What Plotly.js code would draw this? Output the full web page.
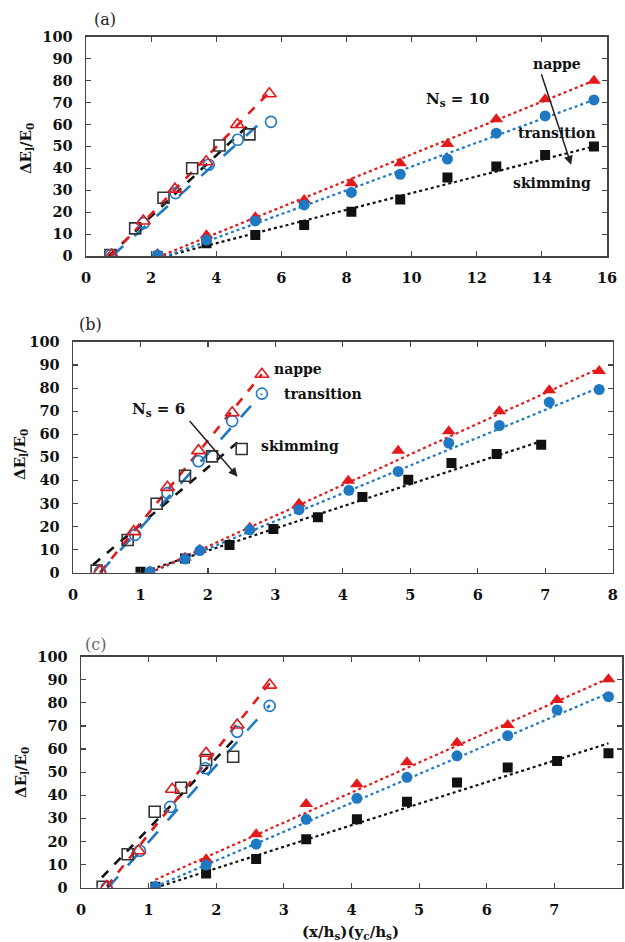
<!DOCTYPE html>
<html>
<head>
<meta charset="utf-8">
<script src="https://cdn.plot.ly/plotly-3.0.1.min.js"></script>
<style>html,body{margin:0;padding:0;background:#fff;}#chart{width:625px;height:942px;}</style>
</head>
<body>
<div id="chart"></div>
<script>
// ---------- Panel (a): N_s = 10 ----------
const aOpenNappeX = [0.79, 1.76, 2.73, 3.69, 4.65, 5.63];
const aOpenNappeY = [0.5, 16, 30.5, 43, 60, 74];
const aOpenTransX = [0.77, 1.77, 2.75, 3.77, 4.66, 5.68];
const aOpenTransY = [0.5, 15, 28.7, 41.6, 53, 61.2];
const aOpenSkimX = [0.75, 1.51, 2.38, 3.26, 4.1, 5.02];
const aOpenSkimY = [0.5, 12.6, 26.6, 40, 50.4, 55.5];
const aFillX = [2.2, 3.7, 5.2, 6.7, 8.15, 9.65, 11.1, 12.6, 14.1, 15.6];
const aFillNappeY = [0.9, 9.5, 17.7, 25.5, 33.2, 42.3, 51.1, 62.4, 71.5, 79.9];
const aFillTransY = [0.5, 7.3, 16, 23.3, 29, 37.3, 44.2, 56, 63.9, 71.2];
const aFillSkimY = [0, 5.8, 9.6, 14.2, 20.2, 25.8, 35.8, 40.8, 46.1, 49.9];
// fitted lines (end points)
const aDotNappeX = [2.2, 15.6], aDotNappeY = [-0.5, 80];
const aDotTransX = [2.2, 15.6], aDotTransY = [-1.5, 71.2];
const aDotSkimX = [2.2, 15.6], aDotSkimY = [-1, 50];
const aDashNappeX = [0.75, 5.65], aDashNappeY = [0, 75];
const aDashTransX = [0.8, 5.6], aDashTransY = [0, 64];
const aDashSkimX = [0.7, 4.98], aDashSkimY = [0, 59.5];

// ---------- Panel (b): N_s = 6 ----------
const bOpenNappeX = [0.4, 0.9, 1.4, 1.86, 2.36, 2.8];
const bOpenNappeY = [0.7, 17.8, 37, 52.9, 69.3, 86];
const bOpenTransX = [0.4, 0.92, 1.4, 1.86, 2.36, 2.8];
const bOpenTransY = [0.5, 16.4, 34.5, 48.3, 65.7, 77.6];
const bOpenSkimX = [0.35, 0.81, 1.24, 1.66, 2.06, 2.5];
const bOpenSkimY = [0.9, 14.2, 29.9, 42, 50.4, 53.6];
const bFillNappeX = [1.14, 1.66, 1.88, 2.62, 3.35, 4.08, 4.82, 5.57, 6.32, 7.06, 7.8];
const bFillNappeY = [0.5, 6.5, 10, 19.5, 29.9, 39.9, 52.9, 61.3, 70, 79.1, 87.4];
const bFillTransX = [1.14, 1.66, 1.88, 2.62, 3.35, 4.09, 4.82, 5.57, 6.32, 7.06, 7.8];
const bFillTransY = [0.4, 6, 9.6, 18.6, 27.3, 35.7, 43.9, 56.2, 63.8, 73.9, 79.4];
const bFillSkimX = [1.0, 1.66, 2.32, 2.97, 3.63, 4.29, 4.97, 5.61, 6.28, 6.94];
const bFillSkimY = [0.4, 6.2, 12, 18.9, 24, 32.8, 40.3, 47.5, 51.5, 55.5];
const bDotNappeX = [1.14, 7.8], bDotNappeY = [0, 88.5];
const bDotTransX = [1.14, 7.8], bDotTransY = [0, 80.2];
const bDotSkimX = [1.0, 6.94], bDotSkimY = [0, 57];
const bDashNappeX = [0.4, 2.8], bDashNappeY = [0, 86];
const bDashTransX = [0.4, 2.8], bDashTransY = [0, 77.5];
const bDashSkimX = [0.3, 2.5], bDashSkimY = [3.5, 58];

// ---------- Panel (c) ----------
const cOpenNappeX = [0.38, 0.85, 1.35, 1.85, 2.31, 2.79];
const cOpenNappeY = [0.5, 16, 42.6, 58.2, 70.4, 87.7];
const cOpenTransX = [0.38, 0.87, 1.32, 1.84, 2.31, 2.79];
const cOpenTransY = [0, 16, 35, 51.7, 67.5, 78.7];
const cOpenSkimX = [0.32, 0.69, 1.09, 1.48, 1.85, 2.25];
const cOpenSkimY = [0.4, 14.5, 32.9, 43.3, 55.3, 56.7];
const cFillX = [1.1, 1.85, 2.59, 3.33, 4.08, 4.82, 5.56, 6.31, 7.04, 7.8];
const cFillNappeY = [0.5, 12.3, 23.2, 36.2, 44.8, 54.3, 62.8, 70.4, 81.3, 90.2];
const cFillTransY = [0.4, 9.8, 18.9, 29.6, 38.7, 47.8, 57.1, 65.8, 76.9, 82.7];
const cFillSkimY = [0.4, 6.2, 12.4, 21, 29.6, 37.2, 45.5, 52, 54.8, 58.2];
const cDotNappeX = [1.1, 7.8], cDotNappeY = [3.5, 90.6];
const cDotTransX = [1.1, 7.8], cDotTransY = [0.5, 84.2];
const cDotSkimX = [1.1, 7.8], cDotSkimY = [0, 62.5];
const cDashNappeX = [0.38, 2.79], cDashNappeY = [0.5, 88.5];
const cDashTransX = [0.4, 2.79], cDashTransY = [0, 79];
const cDashSkimX = [0.31, 2.26], cDashSkimY = [4.5, 64];

// ---------- styling ----------
const RED = '#e3191c', BLUE = '#1f78c2', BLACK = '#111111';
const FONT = 'DejaVu Serif, serif';

function line(x, y, color, dash, w, ax) {
  return {x: x, y: y, mode: 'lines', type: 'scatter', xaxis: 'x' + ax, yaxis: 'y' + ax,
    line: {color: color, dash: dash, width: w}, hoverinfo: 'skip'};
}
function pts(x, y, color, symbol, size, ax) {
  const open = symbol.indexOf('open') >= 0;
  return {x: x, y: y, mode: 'markers', type: 'scatter', xaxis: 'x' + ax, yaxis: 'y' + ax,
    marker: {symbol: symbol, size: size, color: color, line: {color: color, width: open ? 1.6 : 0}}};
}
function panelTraces(ax, d) {
  return [
    line(d.dotSX, d.dotSY, BLACK, 'dot', 2.2, ax),
    line(d.dotTX, d.dotTY, BLUE, 'dot', 2.2, ax),
    line(d.dotNX, d.dotNY, RED, 'dot', 2.2, ax),
    line(d.dashSX, d.dashSY, BLACK, 'dash', 2.6, ax),
    line(d.dashTX, d.dashTY, BLUE, 'longdash', 2.6, ax),
    line(d.dashNX, d.dashNY, RED, 'dash', 2.6, ax),
    pts(d.oSX, d.oSY, '#333', 'square-open', 11, ax),
    pts(d.oTX, d.oTY, BLUE, 'circle-open', 11, ax),
    pts(d.oNX, d.oNY, RED, 'triangle-up-open', 12, ax),
    pts(d.fSX, d.fSY, BLACK, 'square', 10, ax),
    pts(d.fNX, d.fNY, RED, 'triangle-up', 12, ax),
    pts(d.fTX, d.fTY, BLUE, 'circle', 11, ax)
  ];
}

const traces = [].concat(
  panelTraces('', {dotSX: aDotSkimX, dotSY: aDotSkimY, dotTX: aDotTransX, dotTY: aDotTransY, dotNX: aDotNappeX, dotNY: aDotNappeY,
    dashSX: aDashSkimX, dashSY: aDashSkimY, dashTX: aDashTransX, dashTY: aDashTransY, dashNX: aDashNappeX, dashNY: aDashNappeY,
    oSX: aOpenSkimX, oSY: aOpenSkimY, oTX: aOpenTransX, oTY: aOpenTransY, oNX: aOpenNappeX, oNY: aOpenNappeY,
    fSX: aFillX, fSY: aFillSkimY, fTX: aFillX, fTY: aFillTransY, fNX: aFillX, fNY: aFillNappeY}),
  panelTraces('2', {dotSX: bDotSkimX, dotSY: bDotSkimY, dotTX: bDotTransX, dotTY: bDotTransY, dotNX: bDotNappeX, dotNY: bDotNappeY,
    dashSX: bDashSkimX, dashSY: bDashSkimY, dashTX: bDashTransX, dashTY: bDashTransY, dashNX: bDashNappeX, dashNY: bDashNappeY,
    oSX: bOpenSkimX, oSY: bOpenSkimY, oTX: bOpenTransX, oTY: bOpenTransY, oNX: bOpenNappeX, oNY: bOpenNappeY,
    fSX: bFillSkimX, fSY: bFillSkimY, fTX: bFillTransX, fTY: bFillTransY, fNX: bFillNappeX, fNY: bFillNappeY}),
  panelTraces('3', {dotSX: cDotSkimX, dotSY: cDotSkimY, dotTX: cDotTransX, dotTY: cDotTransY, dotNX: cDotNappeX, dotNY: cDotNappeY,
    dashSX: cDashSkimX, dashSY: cDashSkimY, dashTX: cDashTransX, dashTY: cDashTransY, dashNX: cDashNappeX, dashNY: cDashNappeY,
    oSX: cOpenSkimX, oSY: cOpenSkimY, oTX: cOpenTransX, oTY: cOpenTransY, oNX: cOpenNappeX, oNY: cOpenNappeY,
    fSX: cFillX, fSY: cFillSkimY, fTX: cFillX, fTY: cFillTransY, fNX: cFillX, fNY: cFillNappeY})
);

const tickFont = {family: FONT, size: 14.5, color: '#111', weight: 'bold'};
function xax(domain, range, dtick, anchor) {
  return {domain: domain, range: range, dtick: dtick, tick0: 0, anchor: anchor, showgrid: false, zeroline: false,
    showline: true, mirror: 'ticks', linecolor: '#444', linewidth: 1.5, ticks: 'inside', ticklen: 5, tickwidth: 1.2,
    tickcolor: '#444', tickfont: tickFont, ticklabelstandoff: 8};
}
function yax(domain, anchor) {
  return {domain: domain, range: [0, 100], dtick: 10, tick0: 0, anchor: anchor, showgrid: false, zeroline: false,
    showline: true, mirror: 'ticks', linecolor: '#444', linewidth: 1.5, ticks: 'inside', ticklen: 5, tickwidth: 1.2,
    tickcolor: '#444', tickfont: tickFont, ticklabelstandoff: 9};
}

const bold = {family: FONT, size: 14, color: '#111', weight: 'bold'};
function txt(x, y, t, ax, font) {
  return {x: x, y: y, xref: 'x' + ax, yref: 'y' + ax, text: t, showarrow: false, font: font || bold};
}
function arrow(x0, y0, x1, y1, ax) {
  return {x: x1, y: y1, ax: x0, ay: y0, xref: 'x' + ax, yref: 'y' + ax, axref: 'x' + ax, ayref: 'y' + ax,
    text: '', showarrow: true, arrowhead: 2, arrowsize: 1.2, arrowwidth: 1.5, arrowcolor: '#222'};
}
function paperTxt(x, y, t, font, angle) {
  return {x: x, y: y, xref: 'paper', yref: 'paper', text: t, showarrow: false, font: font, textangle: angle || 0,
    xanchor: 'center', yanchor: 'middle'};
}
const titleFont = {family: FONT, size: 15, color: '#111', weight: 'bold'};
const labelFont = {family: FONT, size: 16, color: '#222'};
const yTitle = '\u0394E<sub>l</sub>/E<sub>0</sub>';

const annotations = [
  txt(14.47, 87.7, 'nappe', ''),
  txt(11.42, 71.2, 'N<sub>s</sub> = 10', '', {family: FONT, size: 15, color: '#111', weight: 'bold'}),
  txt(14.47, 56.2, 'transition', ''),
  txt(14.31, 33.3, 'skimming', ''),
  arrow(13.97, 83.6, 14.9, 41.6, ''),
  txt(3.34, 88.1, 'nappe', '2'),
  txt(3.70, 77.3, 'transition', '2'),
  txt(3.36, 55.1, 'skimming', '2'),
  txt(1.26, 70.7, 'N<sub>s</sub> = 6', '2', {family: FONT, size: 15, color: '#111', weight: 'bold'}),
  arrow(1.71, 66.4, 2.44, 41.6, '2'),
  paperTxt(0.0416, 0.8418, yTitle, titleFont, -90),
  paperTxt(0.0336, 0.517, yTitle, titleFont, -90),
  paperTxt(0.0336, 0.1794, yTitle, titleFont, -90),
  paperTxt(0.168, 0.9798, '(a)', labelFont),
  paperTxt(0.144, 0.655, '(b)', labelFont),
  paperTxt(0.1536, 0.3163, '(c)', {family: FONT, size: 16, color: '#666'}),
  paperTxt(0.56, 0.0106, '(x/h<sub>s</sub>)(y<sub>c</sub>/h<sub>s</sub>)', titleFont)
];

const layout = {
  width: 625, height: 942, margin: {l: 0, r: 0, t: 0, b: 0},
  paper_bgcolor: '#fff', plot_bgcolor: '#fff', showlegend: false,
  xaxis: xax([0.1376, 0.9712], [0, 16], 2, 'y'),
  yaxis: yax([0.7282, 0.961], 'x'),
  xaxis2: xax([0.1168, 0.9803], [0, 8], 1, 'y2'),
  yaxis2: yax([0.392, 0.637], 'x2'),
  xaxis3: xax([0.1296, 0.9952], [0, 8], 1, 'y3'),
  yaxis3: yax([0.0576, 0.3029], 'x3'),
  annotations: annotations
};

Plotly.newPlot('chart', traces, layout, {displayModeBar: false, staticPlot: true});
</script>
</body>
</html>
